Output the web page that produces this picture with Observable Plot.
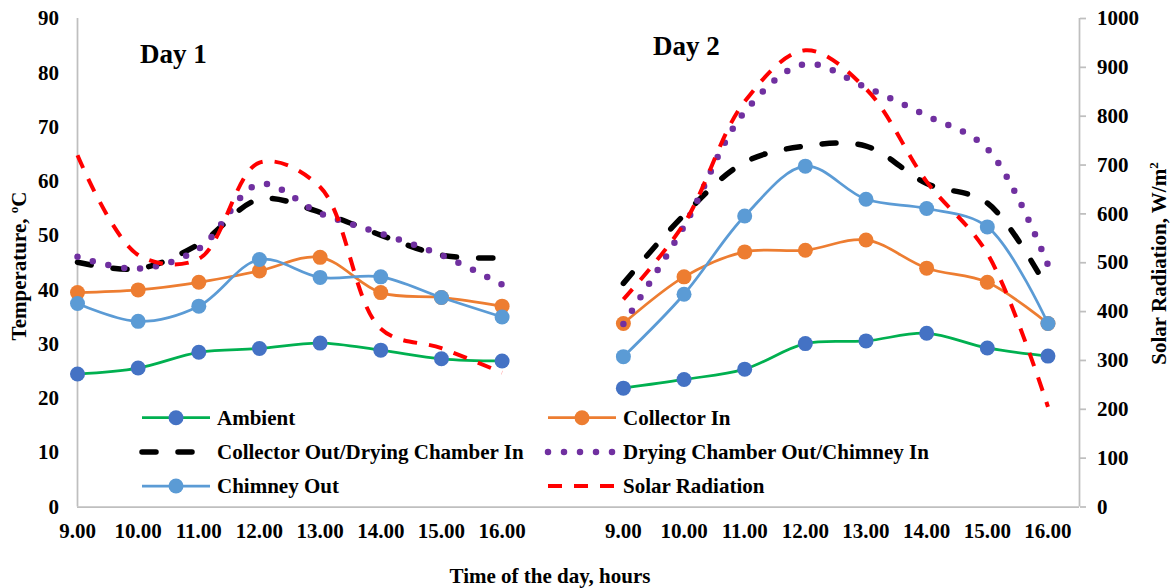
<!DOCTYPE html>
<html><head><meta charset="utf-8">
<script src="https://cdn.jsdelivr.net/npm/d3@7"></script>
<script src="https://cdn.jsdelivr.net/npm/@observablehq/plot@0.6"></script>
<style>
html,body{margin:0;padding:0;background:#fff;}
#chart{width:1172px;height:588px;}
#chart svg text{font-family:'Liberation Serif','Times New Roman',serif;font-weight:bold;}
</style></head><body><div id="chart"></div>
<script>
// ---------- data ----------
const hours = [9, 10, 11, 12, 13, 14, 15, 16];
const days = ["Day 1", "Day 2"];
const seriesNames = ["Ambient", "Collector In", "Collector Out/Drying Chamber In",
  "Drying Chamber Out/Chimney In", "Chimney Out", "Solar Radiation"];

// Day 1 (temperatures in °C, radiation in W/m²)
const ambient1      = [24.5, 25.6, 28.5, 29.2, 30.2, 28.9, 27.3, 26.9];
const collectorIn1  = [39.5, 40.0, 41.4, 43.5, 46.0, 39.5, 38.6, 37.0];
const collectorOut1 = [45.1, 43.9, 48.4, 56.7, 54.3, 50.1, 46.4, 45.9];
const chamberOut1   = [46.1, 43.9, 47.6, 59.5, 54.1, 50.4, 46.4, 41.0];
const chimneyOut1   = [37.5, 34.2, 37.0, 45.6, 42.3, 42.4, 38.6, 35.0];
const solar1        = [720, 516, 508, 705, 655, 365, 325, 275];

// Day 2
const ambient2      = [21.9, 23.5, 25.4, 30.1, 30.6, 32.0, 29.3, 27.8];
const collectorIn2  = [33.8, 42.4, 47.0, 47.3, 49.2, 44.0, 41.4, 33.8];
const collectorOut2 = [41.2, 53.8, 63.5, 66.5, 66.5, 59.6, 56.0, 40.0];
const chamberOut2   = [33.7, 51.7, 72.8, 81.6, 77.3, 72.1, 66.0, 44.6];
const chimneyOut2   = [27.7, 39.2, 53.6, 62.8, 56.7, 55.0, 51.6, 33.8];
const solar2        = [425, 580, 830, 935, 856, 666, 519, 205];

const tempTicks = [0, 10, 20, 30, 40, 50, 60, 70, 80, 90];
const radTicks = [0, 100, 200, 300, 400, 500, 600, 700, 800, 900, 1000];
const TEMP_MAX = 90, RAD_MAX = 1000;
const dayGap = 9;          // category slots between the first hour of each day
const xMax = 16.52;        // end of the category axis

// ---------- table ----------
const rows = [];
function add(series, day, vals) {
  vals.forEach((v, i) => rows.push({series, day, hour: hours[i], value: v}));
}
add(seriesNames[0], days[0], ambient1);      add(seriesNames[0], days[1], ambient2);
add(seriesNames[1], days[0], collectorIn1);  add(seriesNames[1], days[1], collectorIn2);
add(seriesNames[2], days[0], collectorOut1); add(seriesNames[2], days[1], collectorOut2);
add(seriesNames[3], days[0], chamberOut1);   add(seriesNames[3], days[1], chamberOut2);
add(seriesNames[4], days[0], chimneyOut1);   add(seriesNames[4], days[1], chimneyOut2);
add(seriesNames[5], days[0], solar1);        add(seriesNames[5], days[1], solar2);

const xPos = d => (d.hour - hours[0]) + days.indexOf(d.day) * dayGap;
const yVal = d => d.series === "Solar Radiation" ? d.value * TEMP_MAX / RAD_MAX : d.value;

const styles = {
  "Ambient": {stroke: "#00b050", width: 2.75, marker: "#4472c4"},
  "Collector In": {stroke: "#ed7d31", width: 2.75, marker: "#ed7d31"},
  "Collector Out/Drying Chamber In": {stroke: "#000000", width: 5.5, dash: "14,22", cap: "round"},
  "Drying Chamber Out/Chimney In": {stroke: "#7030a0", width: 6.5, dash: "0,16", cap: "round"},
  "Chimney Out": {stroke: "#5b9bd5", width: 2.75, marker: "#5b9bd5"},
  "Solar Radiation": {stroke: "#ff0000", width: 4, dash: "14,12", cap: "butt"}
};

const xTicks = days.flatMap((d, k) => hours.map(h => (h - hours[0]) + k * dayGap));
const fmtHour = v => {
  const h = (v >= dayGap ? v - dayGap : v) + hours[0];
  return h.toFixed(2);
};

const font = "'Liberation Serif','Times New Roman',serif";
const axisFont = {fontFamily: font, fontSize: 21, fontWeight: "bold"};
const axisColor = "#bfbfbf";
const marks = [
  Plot.ruleY([0], {stroke: axisColor, strokeWidth: 1.75}),
  Plot.ruleX([0, xMax], {stroke: axisColor, strokeWidth: 1.75}),
  Plot.axisY(tempTicks, {anchor: "left", tickSize: 0, tickPadding: 18.5, label: null, ...axisFont}),
  Plot.axisY(radTicks.map(r => r * TEMP_MAX / RAD_MAX), {
    anchor: "right", tickSize: 6, tickPadding: 11.5, stroke: axisColor, strokeWidth: 1.75,
    tickFormat: t => String(Math.round(t * RAD_MAX / TEMP_MAX)), label: null, ...axisFont
  }),
  Plot.axisX(xTicks, {anchor: "bottom", tickSize: 0, tickPadding: 16.5, tickFormat: fmtHour, label: null, ...axisFont})
];
for (const s of seriesNames) {
  const st = styles[s];
  const data = rows.filter(d => d.series === s);
  marks.push(Plot.line(data, {
    x: xPos, y: yVal, z: "day", curve: "catmull-rom",
    stroke: st.stroke, strokeWidth: st.width,
    strokeDasharray: st.dash, strokeLinecap: st.cap || "round", strokeLinejoin: "round"
  }));
  if (st.marker) marks.push(Plot.dot(data, {x: xPos, y: yVal, r: 7.5, fill: st.marker, stroke: "none"}));
}

const plot = Plot.plot({
  width: 1172, height: 588,
  marginLeft: 77, marginRight: 93, marginTop: 18, marginBottom: 81.5,
  x: {type: "linear", domain: [0, xMax]},
  y: {type: "linear", domain: [0, TEMP_MAX]},
  style: {fontFamily: font, fontSize: "21px", fontWeight: "bold", color: "#000", background: "#fff"},
  marks
});
document.getElementById("chart").appendChild(plot);

// ---------- annotations, titles, legend ----------
const svg = d3.select(plot);
svg.selectAll("text").attr("font-family", font).attr("font-weight", "bold").attr("font-variant", "normal");

function txt(x, y, size) {
  return svg.append("text").attr("x", x).attr("y", y)
    .attr("font-family", font).attr("font-weight", "bold").attr("font-size", size).attr("fill", "#000");
}
txt(140, 62.7, 27).attr("text-anchor", "start").text("Day 1");
txt(653, 55, 27).attr("text-anchor", "start").text("Day 2");
txt(550, 582.5, 21).attr("text-anchor", "middle").text("Time of the day, hours");

const lt = svg.append("text").attr("transform", "translate(26,266) rotate(-90)")
  .attr("text-anchor", "middle").attr("font-family", font).attr("font-weight", "bold").attr("font-size", 21);
lt.append("tspan").text("Temperature, ");
lt.append("tspan").attr("font-size", 13).attr("dy", -8).text("o");
lt.append("tspan").attr("dy", 8).text("C");

const rt = svg.append("text").attr("transform", "translate(1166,263.5) rotate(-90)")
  .attr("text-anchor", "middle").attr("font-family", font).attr("font-weight", "bold").attr("font-size", 21);
rt.append("tspan").text("Solar Radiation, W/m");
rt.append("tspan").attr("font-size", 13).attr("dy", -8).text("2");

const colX = [142, 548], rowY = [417.7, 452, 486], sampleW = 68;
seriesNames.forEach((s, i) => {
  const st = styles[s];
  const x0 = colX[i % 2], y = rowY[Math.floor(i / 2)];
  svg.append("line").attr("x1", x0).attr("x2", x0 + sampleW).attr("y1", y).attr("y2", y)
    .attr("stroke", st.stroke).attr("stroke-width", st.width)
    .attr("stroke-dasharray", st.dash || null).attr("stroke-linecap", st.cap || "butt");
  if (st.marker) svg.append("circle").attr("cx", x0 + sampleW / 2).attr("cy", y).attr("r", 7.5).attr("fill", st.marker);
  txt(x0 + sampleW + 7, y, 21).attr("dy", "0.35em").attr("text-anchor", "start").text(s);
});
</script></body></html>
